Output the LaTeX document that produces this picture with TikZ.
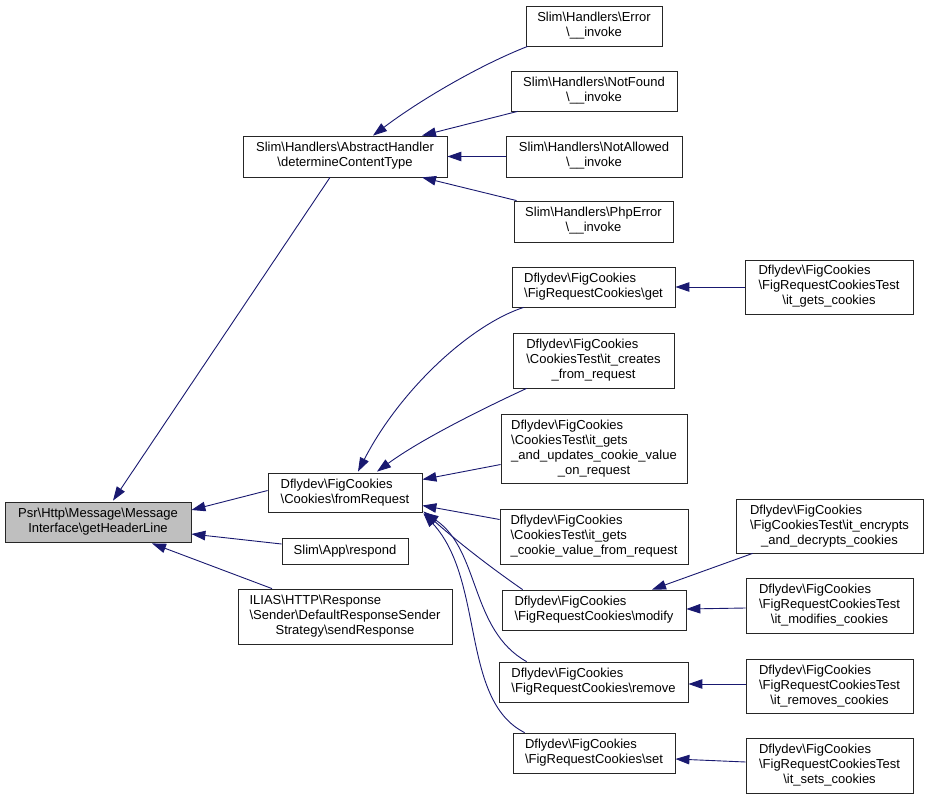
\documentclass[tikz,border=0pt]{standalone}
\usepackage{fontspec}
\setmainfont{Liberation Sans}
\usetikzlibrary{arrows.meta,calc}
\definecolor{navy}{HTML}{191970}
\definecolor{rootgray}{HTML}{BFBFBF}
\newcommand\bs{\textbackslash}
\newcommand\lab[2]{\begin{tabular}{@{}l@{}}#1\\\multicolumn{1}{@{}c@{}}{#2}\end{tabular}}
\newcommand\mybox[7][]{\node[box,#1,minimum width={(#4-#3)*1pt},minimum height={(#6-#5)*1pt}] (#2) at ({(#3+#4)/2},{(#5+#6)/2}) {#7};}
\begin{document}
\begin{tikzpicture}[x=1pt,y=-1pt,
  box/.style={draw=black!85,line width=0.8pt,inner sep=0pt,fill=white,font=\fontsize{13}{15}\selectfont},
  rootbox/.style={fill=rootgray},
  callarrow/.style={draw=navy,line width=0.9pt,-{Triangle[length=14pt,width=9.5pt]}}]
\useasboundingbox (0,0) rectangle (928,799);
% nodes
\mybox[rootbox]{A}{5}{191}{502}{542}{\lab{Psr\bs Http\bs Message\bs Message}{Interface\bs getHeaderLine}}
\mybox{B}{268}{422}{473}{512}{\lab{Dflydev\bs FigCookies}{\bs Cookies\bs fromRequest}}
\mybox{C}{282}{408}{538}{564}{Slim\bs App\bs respond}
\mybox{D}{238}{452}{589}{644}{\lab{ILIAS\bs HTTP\bs Response\\\bs Sender\bs DefaultResponseSender}{Strategy\bs sendResponse}}
\mybox{E}{243}{447}{136}{177}{\lab{Slim\bs Handlers\bs AbstractHandler}{\bs determineContentType}}
\mybox{F}{526}{662}{6}{46}{\lab{Slim\bs Handlers\bs Error}{\bs \_\_invoke}}
\mybox{G}{511}{677}{71}{111}{\lab{Slim\bs Handlers\bs NotFound}{\bs \_\_invoke}}
\mybox{H}{506}{682}{136}{177}{\lab{Slim\bs Handlers\bs NotAllowed}{\bs \_\_invoke}}
\mybox{I}{514}{673}{201}{242}{\lab{Slim\bs Handlers\bs PhpError}{\bs \_\_invoke}}
\mybox{J}{512}{675}{267}{307}{\lab{Dflydev\bs FigCookies}{\bs FigRequestCookies\bs get}}
\mybox{K}{745}{913}{260}{314}{\lab{Dflydev\bs FigCookies\\\bs FigRequestCookiesTest}{\bs it\_gets\_cookies}}
\mybox{L}{513}{674}{333}{388}{\lab{Dflydev\bs FigCookies\\\bs CookiesTest\bs it\_creates}{\_from\_request}}
\mybox{M}{501}{687}{414}{483}{\lab{Dflydev\bs FigCookies\\\bs CookiesTest\bs it\_gets\\\_and\_updates\_cookie\_value}{\_on\_request}}
\mybox{N}{500}{688}{509}{564}{\lab{Dflydev\bs FigCookies\\\bs CookiesTest\bs it\_gets}{\_cookie\_value\_from\_request}}
\mybox{O}{736}{923}{499}{553}{\lab{Dflydev\bs FigCookies\\\bs FigCookiesTest\bs it\_encrypts}{\_and\_decrypts\_cookies}}
\mybox{P}{502}{686}{590}{630}{\lab{Dflydev\bs FigCookies}{\bs FigRequestCookies\bs modify}}
\mybox{Q}{746}{913}{578}{633}{\lab{Dflydev\bs FigCookies\\\bs FigRequestCookiesTest}{\bs it\_modifies\_cookies}}
\mybox{R}{499}{688}{662}{702}{\lab{Dflydev\bs FigCookies}{\bs FigRequestCookies\bs remove}}
\mybox{S}{746}{913}{659}{713}{\lab{Dflydev\bs FigCookies\\\bs FigRequestCookiesTest}{\bs it\_removes\_cookies}}
\mybox{T}{513}{675}{733}{773}{\lab{Dflydev\bs FigCookies}{\bs FigRequestCookies\bs set}}
\mybox{U}{746}{913}{738}{793}{\lab{Dflydev\bs FigCookies\\\bs FigRequestCookiesTest}{\bs it\_sets\_cookies}}
% edges
\draw[callarrow] ($(B.west)+(0,-2)$) -- ($(A.east)+(0,-12)$);
\draw[callarrow] ($(C.west)+(0,-7)$) -- ($(A.east)+(0,12)$);
\draw[callarrow] ($(D.north)+(-73,0)$) -- ($(A.south)+(54,1)$);
\draw[callarrow] ($(E.south)+(-15,0)$) -- ($(A.north)+(15,-1)$);
\draw[callarrow] ($(F.south west)+(2,0)$) .. controls (480,65) and (420,100) .. ($(E.north)+(28,0)$);
\draw[callarrow] ($(G.south west)+(7,0)$) -- ($(E.north)+(77,0)$);
\draw[callarrow] (H.west) -- (E.east);
\draw[callarrow] ($(I.north west)+(3,0)$) -- ($(E.south)+(77,0)$);
\draw[callarrow] ($(J.south west)+(12,0)$) .. controls (470,325) and (400,390) .. ($(B.north)+(13,-1)$);
\draw[callarrow] ($(L.south west)+(14,0)$) .. controls (480,410) and (420,440) .. ($(B.north)+(32,-1)$);
\draw[callarrow] ($(M.west)+(0,16)$) -- ($(B.east)+(0,-13)$);
\draw[callarrow] ($(N.west)+(0,-17)$) -- ($(B.east)+(0,13)$);
\draw[callarrow] ($(P.north west)+(21,0)$) .. controls (480,560) and (450,535) .. ($(B.south east)+(1,-1)$);
\draw[callarrow] ($(R.north west)+(28,0)$) .. controls (470,630) and (480,550) .. ($(B.south east)+(2,0)$);
\draw[callarrow] ($(T.north west)+(12,0)$) .. controls (460,700) and (485,580) .. ($(B.south east)+(1,1)$);
\draw[callarrow] (K.west) -- (J.east);
\draw[callarrow] ($(O.south west)+(17,0)$) -- ($(P.north)+(58,0)$);
\draw[callarrow] ($(Q.west)+(0,2.5)$) -- ($(P.east)+(0,-1)$);
\draw[callarrow] ($(S.west)+(0,-2)$) -- ($(R.east)+(0,2)$);
\draw[callarrow] ($(U.west)+(0,-3.5)$) -- ($(T.east)+(0,6)$);
\end{tikzpicture}
\end{document}
